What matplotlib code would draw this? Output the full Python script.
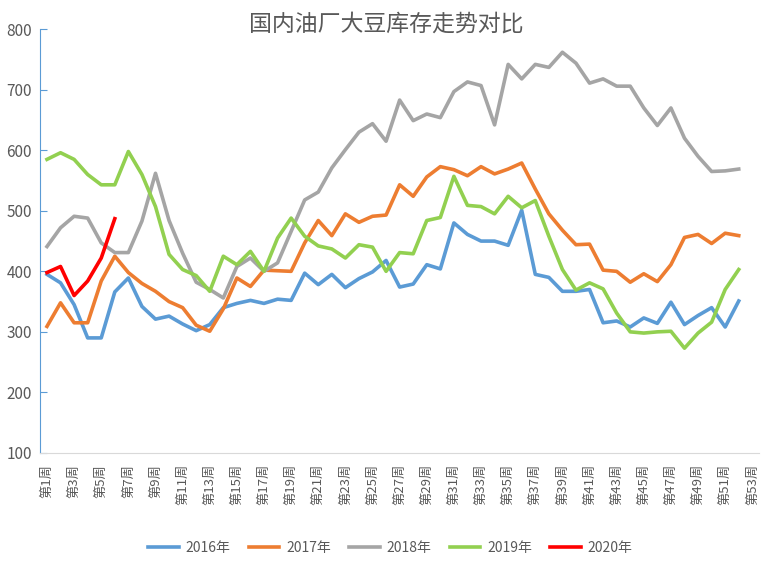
import matplotlib.pyplot as plt

plt.rcParams['font.family'] = ['Noto Sans CJK SC', 'DejaVu Sans']

weeks = ['第%d周' % i for i in range(1, 54)]
y2016 = [395, 381, 345, 290, 290, 366, 389, 342, 321, 326, 313, 302, 312, 340, 347, 352,
         347, 354, 352, 397, 378, 395, 373, 388, 399, 418, 374, 379, 411, 404, 480, 461,
         450, 450, 443, 501, 395, 390, 367, 367, 370, 315, 318, 308, 323, 314, 349, 312,
         327, 340, 308, 351]
y2017 = [309, 348, 315, 315, 384, 425, 398, 380, 367, 350, 340, 311, 301, 338, 389, 375,
         402, 401, 400, 447, 484, 459, 495, 481, 491, 493, 543, 524, 556, 573, 568, 558,
         573, 561, 569, 579, 536, 495, 468, 444, 445, 402, 400, 382, 396, 383, 411, 456,
         461, 446, 463, 459]
y2018 = [441, 472, 491, 488, 447, 431, 431, 483, 562, 484, 430, 382, 370, 356, 408, 422,
         400, 414, 466, 518, 531, 571, 601, 630, 644, 615, 683, 649, 660, 654, 697, 713,
         707, 642, 742, 718, 742, 737, 762, 744, 711, 718, 706, 706, 670, 641, 670, 620,
         590, 565, 566, 569]
y2019 = [585, 596, 585, 560, 543, 543, 598, 560, 507, 428, 403, 393, 367, 425, 411, 433,
         400, 455, 488, 458, 442, 437, 422, 444, 440, 400, 431, 429, 484, 489, 557, 509,
         507, 495, 524, 505, 517, 458, 403, 369, 381, 371, 331, 300, 298, 300, 301, 273,
         298, 316, 370, 403]
y2020 = [398, 408, 360, 384, 422, 487]

series = [('2016年', y2016, '#5B9BD5'),
          ('2017年', y2017, '#ED7D31'),
          ('2018年', y2018, '#A5A5A5'),
          ('2019年', y2019, '#92D050'),
          ('2020年', y2020, '#FF0000')]

fig = plt.figure(figsize=(7.73, 5.74), dpi=100)
ax = fig.add_axes([0.052, 0.211, 0.930, 0.738])

for name, vals, color in series:
    xs = list(range(1, len(vals) + 1))
    ax.plot(xs, vals, color=color, linewidth=2.6, label=name)

ax.set_xlim(0.5, 53.5)
ax.set_ylim(100, 800)
ax.set_yticks(range(100, 801, 100))
ax.set_xticks(range(1, 54, 2))
ax.set_xticklabels(weeks[::2], rotation=90, fontsize=9.5, color='#595959')
ax.tick_params(axis='x', length=0, pad=8)
ax.tick_params(axis='y', direction='in', length=5, color='#5B9BD5', labelsize=11,
               labelcolor='#595959', pad=6)

for s in ['top', 'right']:
    ax.spines[s].set_visible(False)
ax.spines['left'].set_color('#5B9BD5')
ax.spines['bottom'].set_color('#D9D9D9')

fig.text(0.5, 0.958, '国内油厂大豆库存走势对比', fontsize=16.5, color='#595959',
         ha='center', va='center', fontweight='light')

fig.legend(loc='center', bbox_to_anchor=(0.505, 0.045), ncol=5, frameon=False,
           fontsize=10, handlelength=2.2, handletextpad=0.5, columnspacing=1.3,
           labelcolor='#595959')

fig.savefig('out.png')
